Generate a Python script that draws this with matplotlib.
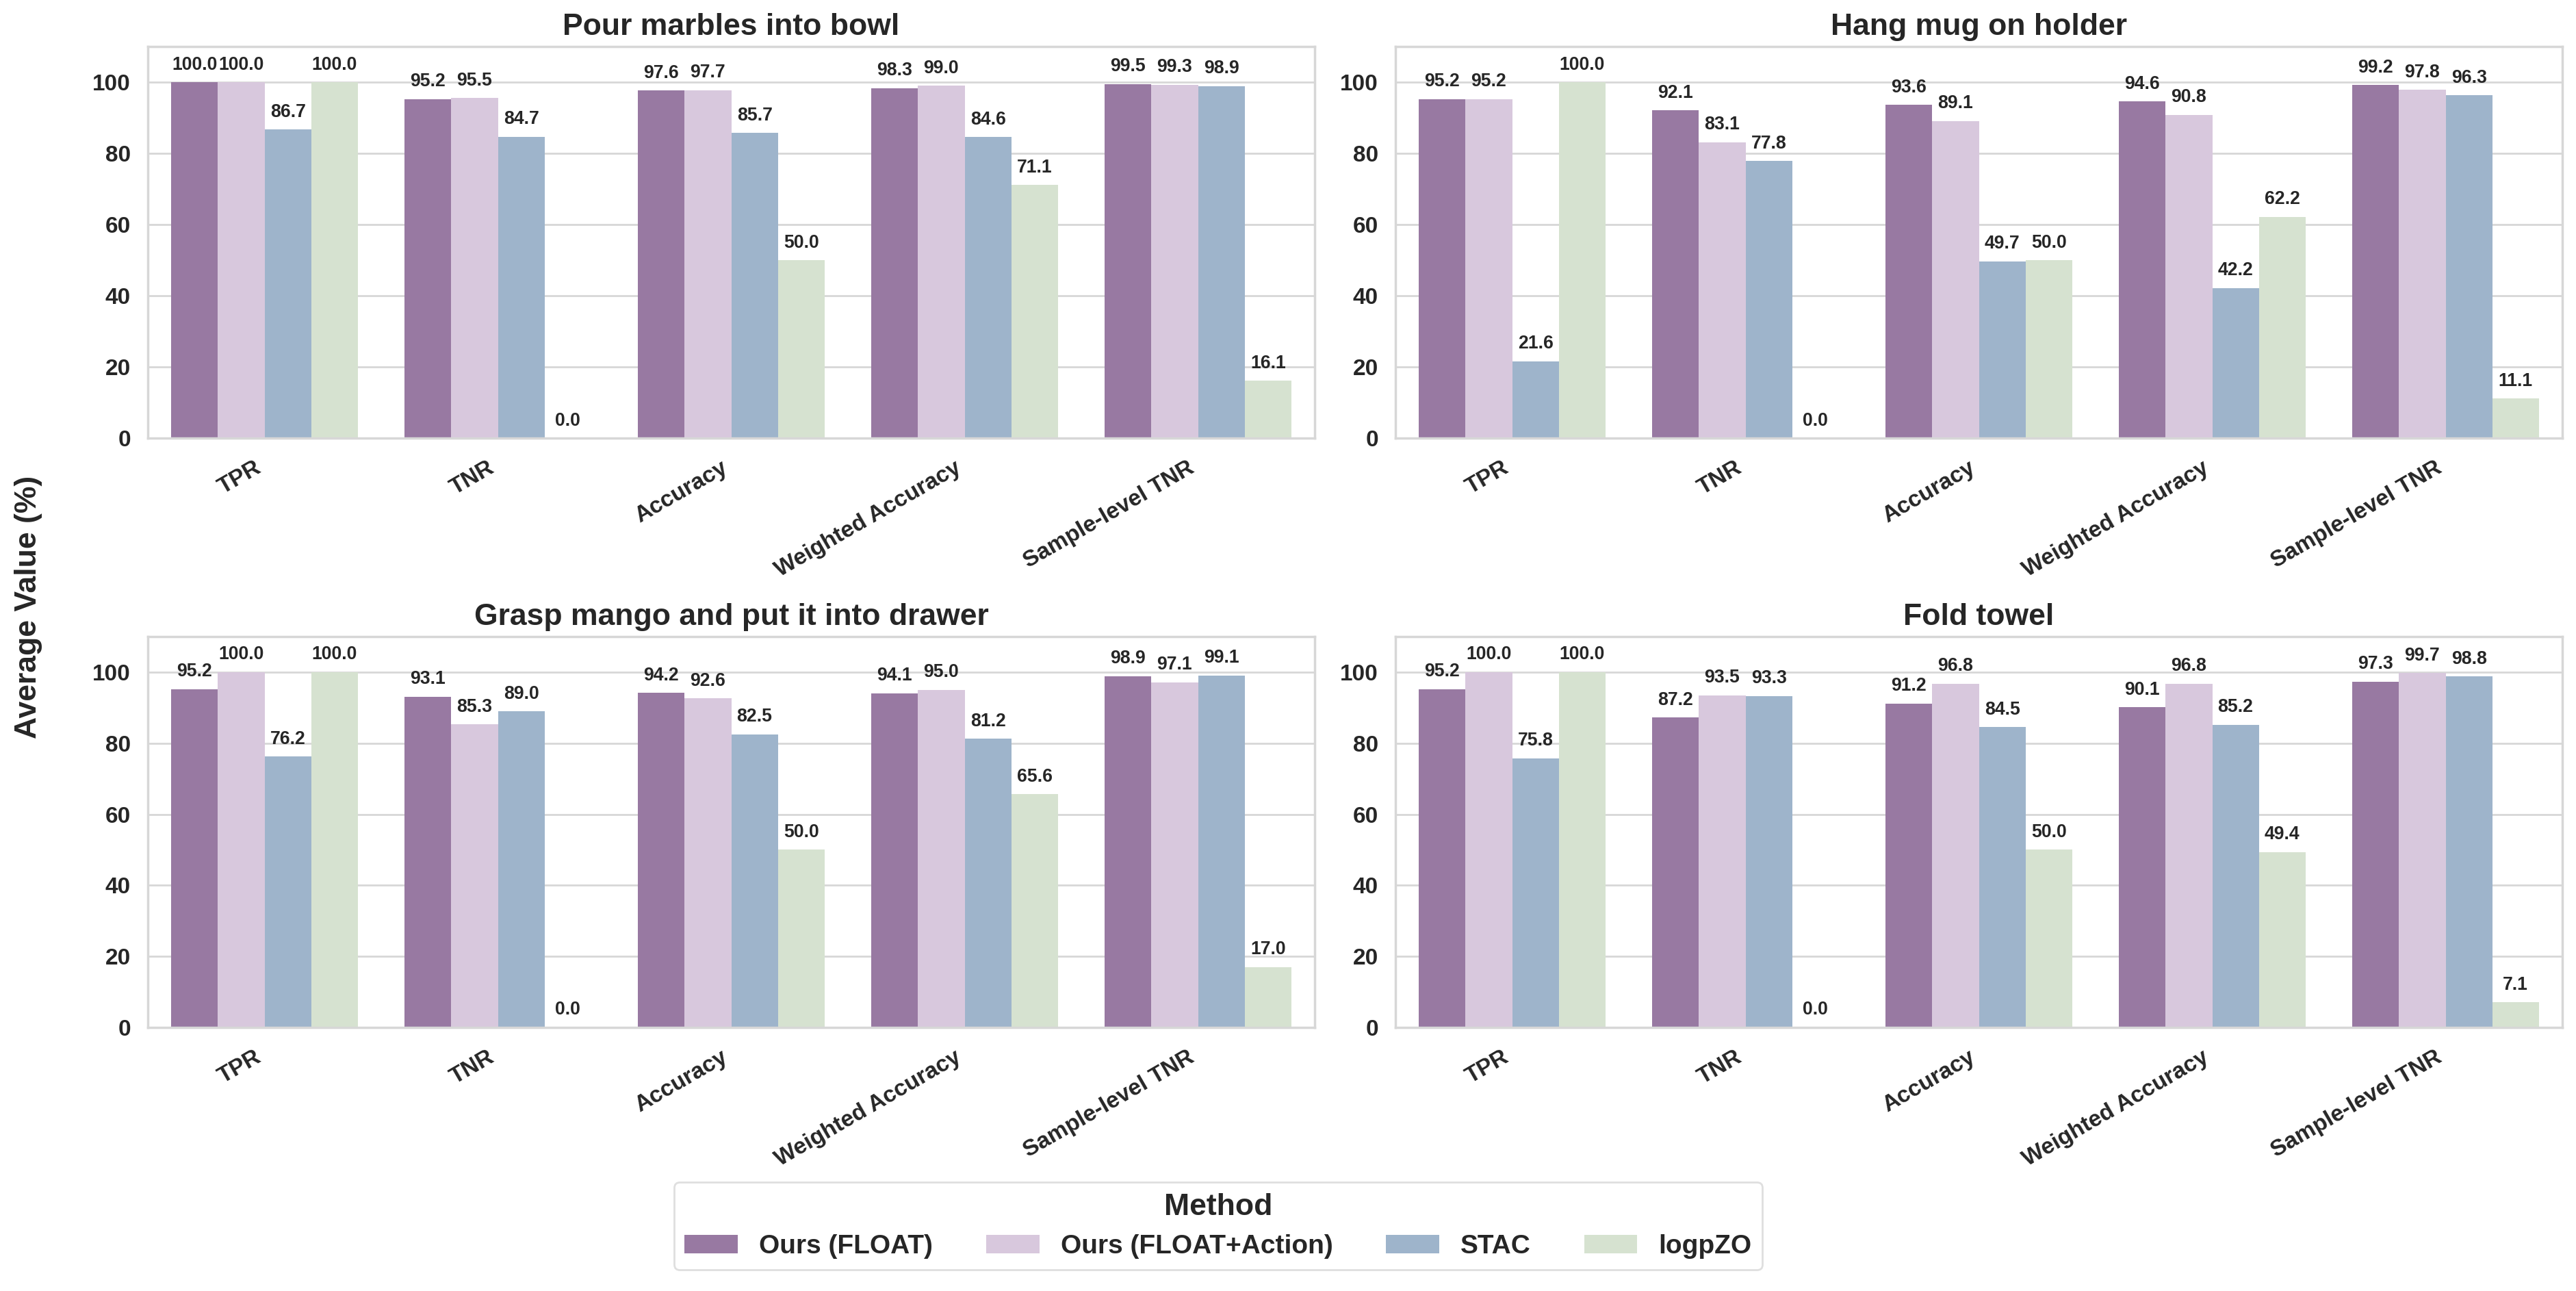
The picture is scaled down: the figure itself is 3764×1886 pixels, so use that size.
import matplotlib
matplotlib.use("Agg")
import matplotlib.pyplot as plt
import seaborn as sns
import numpy as np
from matplotlib.patches import Patch

sns.set_theme(style="whitegrid")
plt.rcParams['font.family'] = ['Liberation Sans', 'DejaVu Sans']

metrics = ["TPR", "TNR", "Accuracy", "Weighted Accuracy", "Sample-level TNR"]
methods = ["Ours (FLOAT)", "Ours (FLOAT+Action)", "STAC", "logpZO"]
colors = ["#9879a2", "#d8c8dd", "#9eb4cb", "#d6e2d0"]
tasks = ["Pour marbles into bowl", "Hang mug on holder",
         "Grasp mango and put it into drawer", "Fold towel"]

pour_float        = [100.0, 95.2, 97.6, 98.3, 99.5]
pour_float_action = [100.0, 95.5, 97.7, 99.0, 99.3]
pour_stac         = [86.7, 84.7, 85.7, 84.6, 98.9]
pour_logpzo       = [100.0, 0.0, 50.0, 71.1, 16.1]

mug_float         = [95.2, 92.1, 93.6, 94.6, 99.2]
mug_float_action  = [95.2, 83.1, 89.1, 90.8, 97.8]
mug_stac          = [21.6, 77.8, 49.7, 42.2, 96.3]
mug_logpzo        = [100.0, 0.0, 50.0, 62.2, 11.1]

mango_float        = [95.2, 93.1, 94.2, 94.1, 98.9]
mango_float_action = [100.0, 85.3, 92.6, 95.0, 97.1]
mango_stac         = [76.2, 89.0, 82.5, 81.2, 99.1]
mango_logpzo       = [100.0, 0.0, 50.0, 65.6, 17.0]

towel_float        = [95.2, 87.2, 91.2, 90.1, 97.3]
towel_float_action = [100.0, 93.5, 96.8, 96.8, 99.7]
towel_stac         = [75.8, 93.3, 84.5, 85.2, 98.8]
towel_logpzo       = [100.0, 0.0, 50.0, 49.4, 7.1]

data = [
    [pour_float, pour_float_action, pour_stac, pour_logpzo],
    [mug_float, mug_float_action, mug_stac, mug_logpzo],
    [mango_float, mango_float_action, mango_stac, mango_logpzo],
    [towel_float, towel_float_action, towel_stac, towel_logpzo],
]

W, H = 3764, 1886
dpi = 200
fig = plt.figure(figsize=(W / dpi, H / dpi), dpi=dpi)

lefts = [216, 2039]
rights = [1921, 3744]
tops = [68, 930]
bottoms = [640, 1501]

text_color = "#262626"
x = np.arange(len(metrics))
bw = 0.2
for i, task in enumerate(tasks):
    r, c = divmod(i, 2)
    l = lefts[c] / W
    w = (rights[c] - lefts[c]) / W
    b = 1 - bottoms[r] / H
    h = (bottoms[r] - tops[r]) / H
    ax = fig.add_axes([l, b, w, h])
    for j, m in enumerate(methods):
        vals = data[i][j]
        cont = ax.bar(x - 0.3 + j * bw, vals, width=bw, color=colors[j],
                      linewidth=0, label=m, zorder=2)
        ax.bar_label(cont, fmt="%.1f", padding=4.5, fontsize=9.6,
                     fontweight="bold", color=text_color)
    ax.set_xlim(-0.5, len(metrics) - 0.5)
    ax.set_ylim(0, 110)
    ax.set_yticks([0, 20, 40, 60, 80, 100])
    ax.set_xticks(x)
    ax.set_xticklabels(metrics, rotation=30, ha="right", fontsize=12,
                       fontweight="bold", color=text_color)
    for t in ax.get_yticklabels():
        t.set_fontsize(12)
        t.set_fontweight("bold")
        t.set_color(text_color)
    ax.tick_params(axis="y", length=0, pad=9)
    ax.tick_params(axis="x", length=0, pad=10)
    ax.grid(axis="y", color="#d7d7d7", linewidth=1.0, zorder=0)
    ax.grid(axis="x", visible=False)
    ax.set_axisbelow(True)
    for s in ax.spines.values():
        s.set_color("#d7d7d7")
        s.set_linewidth(1.25)
    ax.set_title(task, fontsize=16, fontweight="bold", color=text_color, pad=6)

fig.text(0.011, 0.53, "Average Value (%)", rotation=90, ha="center",
         va="center", fontsize=16, fontweight="bold", color=text_color)

handles = [Patch(facecolor=colors[j], edgecolor="none", label=m)
           for j, m in enumerate(methods)]
leg = fig.legend(handles=handles, loc="lower center",
                 bbox_to_anchor=(1780 / W, 1 - 1874 / H), ncol=4,
                 title="Method", frameon=True, fancybox=True,
                 prop={"size": 14, "weight": "bold"},
                 title_fontproperties={"size": 16, "weight": "bold"})
leg.get_frame().set_edgecolor("#d7d7d7")
for t in leg.get_texts():
    t.set_color(text_color)
leg.get_title().set_color(text_color)

fig.savefig("out.png", dpi=dpi)
